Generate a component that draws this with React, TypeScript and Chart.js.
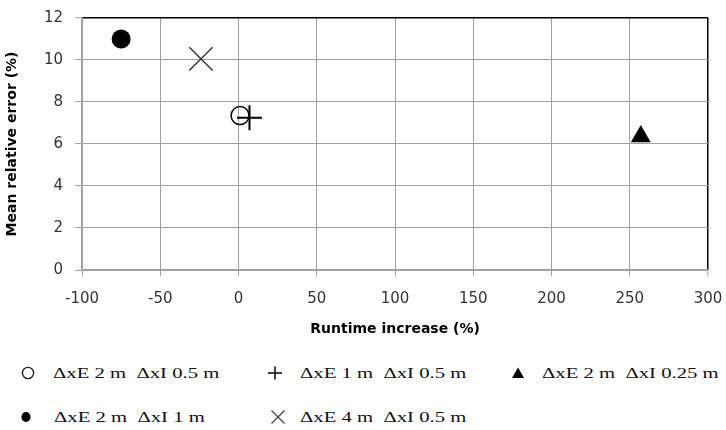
import React, { useEffect, useRef } from "react";
import { Chart, registerables } from "chart.js";

Chart.register(...registerables);

// ---- data ----
const seriesLabels = [
  "ΔxE 2 m  ΔxI 0.5 m",
  "ΔxE 1 m  ΔxI 0.5 m",
  "ΔxE 2 m  ΔxI 0.25 m",
  "ΔxE 2 m  ΔxI 1 m",
  "ΔxE 4 m  ΔxI 0.5 m",
];
const runtimeIncrease = [1, 7, 257, -75, -24];
const meanRelativeError = [7.35, 7.25, 6.35, 11.0, 10.05];
const xTickValues = [-100, -50, 0, 50, 100, 150, 200, 250, 300];
const yTickValues = [0, 2, 4, 6, 8, 10, 12];
const xTitle = "Runtime increase (%)";
const yTitle = "Mean relative error (%)";

// ---- styles ----
const markerStyles = [
  { pointStyle: "circle", radius: 9, bg: "rgba(0,0,0,0)", border: "#000", bw: 1.5 },
  { pointStyle: "cross", radius: 12.5, bg: "#000", border: "#000", bw: 2 },
  { pointStyle: "triangle", radius: 11.5, bg: "#000", border: "#000", bw: 0 },
  { pointStyle: "circle", radius: 9.5, bg: "#000", border: "#000", bw: 0 },
  { pointStyle: "crossRot", radius: 16.5, bg: "#333", border: "#333", bw: 1.4 },
];

const CANVAS_H = 345;
const PLOT_BOTTOM = 270;
const GRID = "#a0a0a0";
const TICK_FONT = { family: "'DejaVu Sans'", size: 15 };
const TITLE_FONT = { family: "'DejaVu Sans'", size: 14, weight: "bold" as const };

function LegendMarker({ kind }: { kind: number }) {
  const s = 18;
  const c = s / 2;
  let el: React.ReactNode = null;
  if (kind === 0) el = <circle cx={c} cy={c} r={5.6} fill="none" stroke="#222" strokeWidth={1.4} />;
  if (kind === 1)
    el = (
      <g stroke="#111" strokeWidth={1.6}>
        <line x1={c - 7} y1={c} x2={c + 7} y2={c} />
        <line x1={c} y1={c - 6.5} x2={c} y2={c + 6.5} />
      </g>
    );
  if (kind === 2) el = <polygon points={`${c},${c - 5.5} ${c + 6},${c + 5} ${c - 6},${c + 5}`} fill="#000" />;
  if (kind === 3) el = <ellipse cx={c} cy={c} rx={4.6} ry={5} fill="#000" />;
  if (kind === 4)
    el = (
      <g stroke="#444" strokeWidth={1.2}>
        <line x1={c - 6.5} y1={c - 6.5} x2={c + 6.5} y2={c + 6.5} />
        <line x1={c + 6.5} y1={c - 6.5} x2={c - 6.5} y2={c + 6.5} />
      </g>
    );
  return (
    <svg width={s} height={s} style={{ display: "block" }}>
      {el}
    </svg>
  );
}

const legendPlacement = [
  { cx: 28, tx: 53, cy: 373 },
  { cx: 275, tx: 300, cy: 373 },
  { cx: 518, tx: 542, cy: 373 },
  { cx: 26, tx: 54, cy: 417 },
  { cx: 278, tx: 300, cy: 417 },
];

export default function App() {
  const ref = useRef<HTMLCanvasElement | null>(null);

  useEffect(() => {
    if (!ref.current) return;
    const datasets = seriesLabels.map((label, i) => ({
      label,
      data: [{ x: runtimeIncrease[i], y: meanRelativeError[i] }],
      pointStyle: markerStyles[i].pointStyle as any,
      pointRadius: markerStyles[i].radius,
      pointHoverRadius: markerStyles[i].radius,
      pointBackgroundColor: markerStyles[i].bg,
      pointBorderColor: markerStyles[i].border,
      pointBorderWidth: markerStyles[i].bw,
      showLine: false,
    }));
    const chart = new Chart(ref.current, {
      type: "scatter",
      data: { datasets },
      options: {
        animation: false,
        responsive: false,
        devicePixelRatio: 1,
        layout: { padding: { top: 13.5, right: 16, left: 0, bottom: 0 } },
        plugins: { legend: { display: false }, tooltip: { enabled: false } },
        scales: {
          x: {
            type: "linear",
            min: -100,
            max: 300,
            afterBuildTicks: (scale: any) => {
              scale.ticks = xTickValues.map((v) => ({ value: v }));
            },
            afterFit: (scale: any) => {
              scale.height = CANVAS_H - PLOT_BOTTOM;
              scale.paddingLeft = 0;
              scale.paddingRight = 0;
            },
            ticks: { font: TICK_FONT, color: "#333", padding: 14, maxRotation: 0 },
            grid: {
              color: (ctx: any) => (ctx.tick && ctx.tick.value === 300 ? "#000" : GRID),
              lineWidth: (ctx: any) => (ctx.tick && ctx.tick.value === 300 ? 1.5 : 1),
              tickLength: 6,
              tickColor: GRID,
              tickWidth: 1,
            },
            border: { color: GRID, width: 1.5 },
            title: { display: true, text: xTitle, font: TITLE_FONT, color: "#000", padding: { top: 0, bottom: 7 } },
          },
          y: {
            type: "linear",
            min: 0,
            max: 12,
            afterBuildTicks: (scale: any) => {
              scale.ticks = yTickValues.map((v) => ({ value: v }));
            },
            afterFit: (scale: any) => {
              scale.width = 82;
              scale.paddingTop = 0;
              scale.paddingBottom = 0;
            },
            ticks: { font: TICK_FONT, color: "#333", padding: 12 },
            grid: {
              color: (ctx: any) => (ctx.tick && ctx.tick.value === 12 ? "#000" : GRID),
              lineWidth: (ctx: any) => (ctx.tick && ctx.tick.value === 12 ? 1.5 : 1),
              tickLength: 7,
              tickColor: GRID,
              tickWidth: 1,
            },
            border: { color: GRID, width: 1.5 },
            title: { display: true, text: yTitle, font: TITLE_FONT, color: "#000", padding: { top: 4, bottom: 0 } },
          },
        },
      },
    });
    return () => chart.destroy();
  }, []);

  return (
    <div style={{ position: "absolute", left: 0, top: 0, width: 726, height: 430, background: "#fff" }}>
      <canvas ref={ref} width={726} height={CANVAS_H} style={{ position: "absolute", left: 0, top: 0 }} />
      {seriesLabels.map((label, i) => {
        const p = legendPlacement[i];
        return (
          <React.Fragment key={i}>
            <div style={{ position: "absolute", left: p.cx - 9, top: p.cy - 9 }}>
              <LegendMarker kind={i} />
            </div>
            <div
              style={{
                position: "absolute",
                left: p.tx,
                top: p.cy - 11,
                height: 22,
                lineHeight: "22px",
                fontFamily: "'Liberation Serif', serif",
                fontSize: 15,
                color: "#111",
                whiteSpace: "pre",
                transform: "scaleX(1.38)",
                transformOrigin: "left center",
              }}
            >
              {label}
            </div>
          </React.Fragment>
        );
      })}
    </div>
  );
}
